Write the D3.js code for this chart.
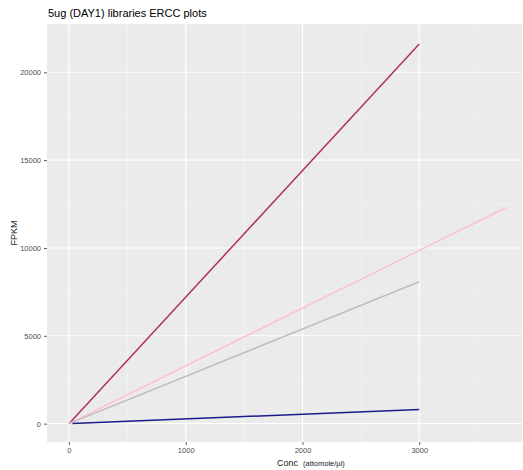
<!DOCTYPE html>
<html>
<head>
<meta charset="utf-8">
<script src="https://cdn.jsdelivr.net/npm/d3@7"></script>
<style>
  body { margin: 0; background: #fff; }
  svg { display: block; font-family: "Liberation Sans", Arial, sans-serif; }
</style>
</head>
<body>
<svg id="chart" width="523" height="470"></svg>
<script>
// ERCC spike-in fits: concentration (attomole/µl) vs FPKM, one line per library
const seriesNames = ["lib1", "lib2", "lib3", "lib4"];
const seriesColors = ["#B03060", "#FFC0CB", "#BEBEBE", "#1A1A8C"];
const seriesConc = [[0, 3000], [0, 3740], [0, 3000], [30, 3000]];
const seriesFpkm = [[0, 21610], [0, 12290], [0, 8080], [10, 800]];

const xTicks = [0, 1000, 2000, 3000];
const xMinor = [500, 1500, 2500, 3500];
const yTicks = [0, 5000, 10000, 15000, 20000];
const yMinor = [2500, 7500, 12500, 17500, 22500];

const svg = d3.select("#chart");
const panel = { left: 47, right: 522, top: 24, bottom: 442 };

const x = d3.scaleLinear().domain([-188, 3880]).range([panel.left, panel.right]);
const y = d3.scaleLinear().domain([-1045, 22750]).range([panel.bottom, panel.top]);

// panel background
svg.append("rect")
  .attr("x", panel.left).attr("y", panel.top)
  .attr("width", panel.right - panel.left).attr("height", panel.bottom - panel.top)
  .attr("fill", "#EBEBEB");

// grid lines
const grid = svg.append("g");
grid.selectAll(".xmin").data(xMinor).join("line")
  .attr("x1", d => x(d)).attr("x2", d => x(d))
  .attr("y1", panel.top).attr("y2", panel.bottom)
  .attr("stroke", "#F5F5F5").attr("stroke-width", 0.6);
grid.selectAll(".ymin").data(yMinor).join("line")
  .attr("y1", d => y(d)).attr("y2", d => y(d))
  .attr("x1", panel.left).attr("x2", panel.right)
  .attr("stroke", "#F5F5F5").attr("stroke-width", 0.6);
grid.selectAll(".xmaj").data(xTicks).join("line")
  .attr("x1", d => x(d)).attr("x2", d => x(d))
  .attr("y1", panel.top).attr("y2", panel.bottom)
  .attr("stroke", "#FFFFFF").attr("stroke-width", 1.1);
grid.selectAll(".ymaj").data(yTicks).join("line")
  .attr("y1", d => y(d)).attr("y2", d => y(d))
  .attr("x1", panel.left).attr("x2", panel.right)
  .attr("stroke", "#FFFFFF").attr("stroke-width", 1.1);

// series lines
const line = d3.line().x(d => x(d[0])).y(d => y(d[1]));
seriesNames.forEach((name, i) => {
  const pts = seriesConc[i].map((c, j) => [c, seriesFpkm[i][j]]);
  svg.append("path")
    .datum(pts)
    .attr("d", line)
    .attr("fill", "none")
    .attr("stroke", seriesColors[i])
    .attr("stroke-width", 1.5);
});

// axes
const xAxis = d3.axisBottom(x).tickValues(xTicks).tickSize(3).tickPadding(3).tickFormat(d3.format("d"));
const yAxis = d3.axisLeft(y).tickValues(yTicks).tickSize(3).tickPadding(3).tickFormat(d3.format("d"));

const gx = svg.append("g").attr("transform", `translate(0,${panel.bottom})`).call(xAxis);
const gy = svg.append("g").attr("transform", `translate(${panel.left},0)`).call(yAxis);
[gx, gy].forEach(g => {
  g.select(".domain").remove();
  g.selectAll(".tick line").attr("stroke", "#333333").attr("stroke-width", 0.8);
  g.selectAll(".tick text").attr("fill", "#4D4D4D").style("font-size", "7.5px");
});

// axis titles
const xt = svg.append("text")
  .attr("x", 277).attr("y", 466)
  .attr("fill", "#222");
xt.append("tspan").style("font-size", "9px").text("Conc");
xt.append("tspan").attr("dx", 5).style("font-size", "7.5px").text("(attomole/\u00b5l)");

svg.append("text")
  .attr("transform", "translate(17,233) rotate(-90)")
  .attr("text-anchor", "middle")
  .attr("fill", "#222")
  .style("font-size", "9px")
  .text("FPKM");

// chart title
svg.append("text")
  .attr("x", 48).attr("y", 17)
  .attr("fill", "#000")
  .style("font-size", "11px")
  .text("5ug (DAY1) libraries ERCC plots");
</script>
</body>
</html>
